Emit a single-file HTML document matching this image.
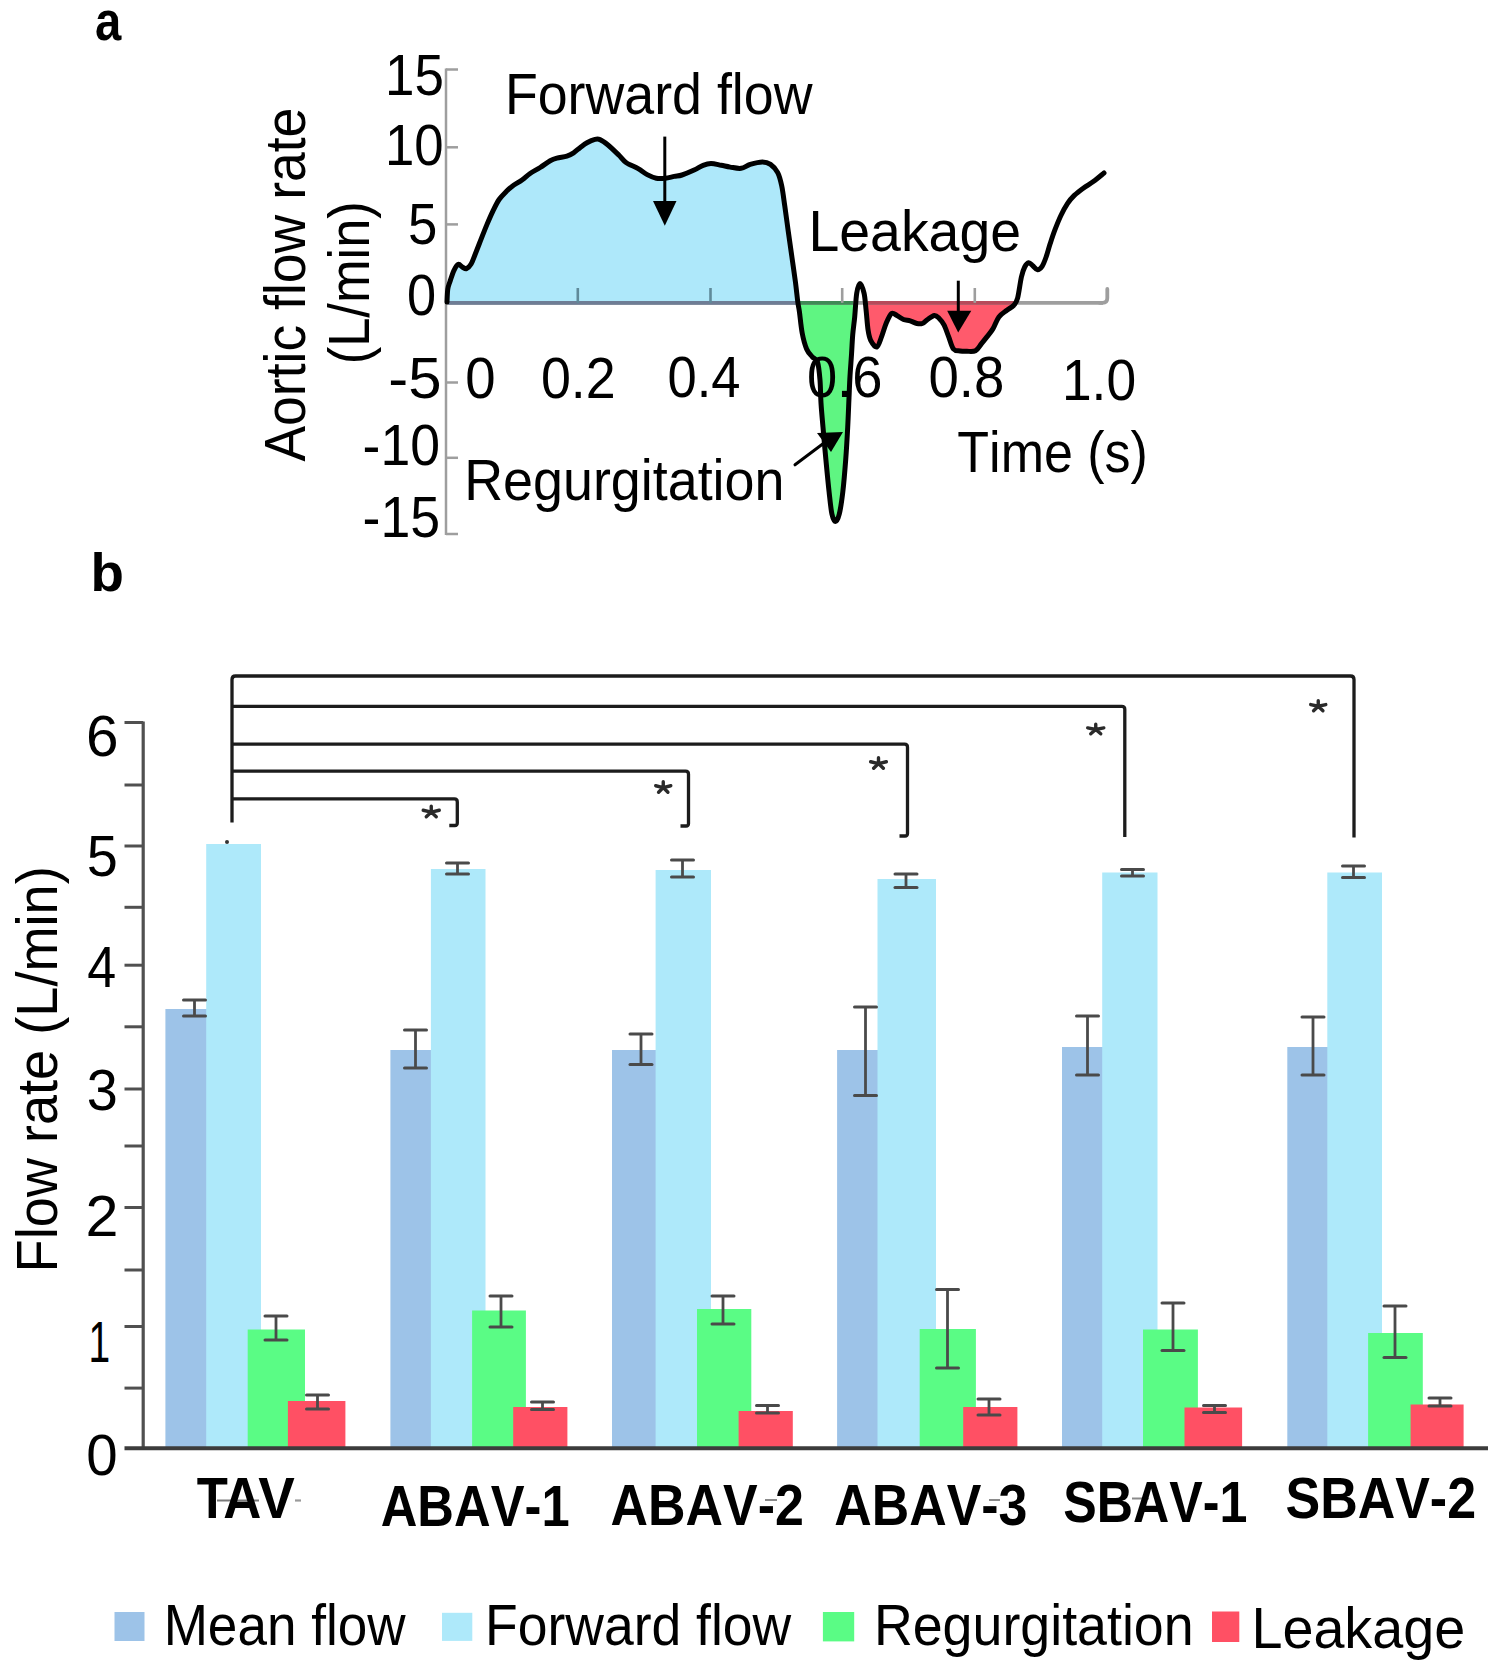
<!DOCTYPE html>
<html><head><meta charset="utf-8"><style>
html,body{margin:0;padding:0;background:#fff;overflow:hidden;}
svg{display:block;}
text{font-family:"Liberation Sans",sans-serif;font-kerning:none;}
</style></head><body>
<svg width="1494" height="1670" viewBox="0 0 1494 1670">
<rect width="1494" height="1670" fill="#fff"/>
<text x="94.92" y="40.30" font-size="56" font-weight="bold" textLength="26.28" lengthAdjust="spacingAndGlyphs" fill="#000">a</text>
<defs><clipPath id="cb"><rect x="440" y="100" width="358" height="202"/></clipPath><clipPath id="cg"><rect x="797" y="302" width="60" height="240"/></clipPath><clipPath id="cr"><rect x="862" y="302" width="156" height="100"/></clipPath></defs>
<path d="M447.00,302.00 C447.13,299.83 447.28,292.47 447.80,289.00 C448.32,285.53 449.07,284.32 450.10,281.20 C451.13,278.08 452.63,273.10 454.00,270.30 C455.37,267.50 456.87,264.92 458.30,264.40 C459.73,263.88 461.23,266.48 462.60,267.20 C463.97,267.92 465.08,269.23 466.50,268.70 C467.92,268.17 469.68,266.33 471.10,264.00 C472.52,261.67 473.43,258.58 475.00,254.70 C476.57,250.82 478.55,245.63 480.50,240.70 C482.45,235.77 484.63,230.03 486.70,225.10 C488.77,220.17 490.83,215.37 492.90,211.10 C494.97,206.83 496.90,202.73 499.10,199.50 C501.30,196.27 503.95,193.88 506.10,191.70 C508.25,189.52 509.35,188.35 512.00,186.40 C514.65,184.45 518.98,182.15 522.00,180.00 C525.02,177.85 527.07,175.58 530.10,173.50 C533.13,171.42 536.85,169.62 540.20,167.50 C543.55,165.38 547.42,162.37 550.20,160.80 C552.98,159.23 554.12,158.88 556.90,158.10 C559.68,157.32 564.12,156.98 566.90,156.10 C569.68,155.22 571.37,154.25 573.60,152.80 C575.83,151.35 578.07,149.08 580.30,147.40 C582.53,145.72 584.55,144.03 587.00,142.70 C589.45,141.37 592.83,139.92 595.00,139.40 C597.17,138.88 597.83,138.67 600.00,139.60 C602.17,140.53 604.83,142.38 608.00,145.00 C611.17,147.62 616.00,152.38 619.00,155.30 C622.00,158.22 622.80,160.28 626.00,162.50 C629.20,164.72 634.67,166.58 638.20,168.60 C641.73,170.62 644.18,173.00 647.20,174.60 C650.22,176.20 653.28,177.60 656.30,178.20 C659.32,178.80 662.30,178.50 665.30,178.20 C668.30,177.90 671.52,176.93 674.30,176.40 C677.08,175.87 678.70,176.05 682.00,175.00 C685.30,173.95 690.58,171.72 694.10,170.10 C697.62,168.48 700.28,166.40 703.10,165.30 C705.92,164.20 707.98,163.50 711.00,163.50 C714.02,163.50 718.00,164.70 721.20,165.30 C724.40,165.90 726.88,166.60 730.20,167.10 C733.52,167.60 737.77,168.75 741.10,168.30 C744.43,167.85 746.65,165.47 750.20,164.40 C753.75,163.33 759.02,161.90 762.40,161.90 C765.78,161.90 767.95,162.62 770.50,164.40 C773.05,166.18 775.83,169.03 777.70,172.60 C779.57,176.17 780.52,180.20 781.70,185.80 C782.88,191.40 783.70,198.57 784.80,206.20 C785.90,213.83 787.12,223.13 788.30,231.60 C789.48,240.07 790.70,248.52 791.90,257.00 C793.10,265.48 794.52,275.00 795.50,282.50 C796.48,290.00 797.15,297.15 797.80,302.00 C798.45,306.85 798.67,306.42 799.40,311.60 C800.13,316.78 801.00,326.88 802.20,333.10 C803.40,339.32 804.92,344.95 806.60,348.90 C808.28,352.85 810.48,354.62 812.30,356.80 C814.12,358.98 816.22,358.13 817.50,362.00 C818.78,365.87 819.42,373.17 820.00,380.00 C820.58,386.83 820.50,395.12 821.00,403.00 C821.50,410.88 822.18,417.85 823.00,427.30 C823.82,436.75 824.88,448.92 825.90,459.70 C826.92,470.48 828.10,482.95 829.10,492.00 C830.10,501.05 830.83,509.08 831.90,514.00 C832.97,518.92 834.27,521.50 835.50,521.50 C836.73,521.50 838.08,518.92 839.30,514.00 C840.52,509.08 841.73,501.05 842.80,492.00 C843.87,482.95 844.88,470.48 845.70,459.70 C846.52,448.92 847.15,437.62 847.70,427.30 C848.25,416.98 848.62,406.32 849.00,397.80 C849.38,389.28 849.58,383.38 850.00,376.20 C850.42,369.02 851.05,361.57 851.50,354.70 C851.95,347.83 852.17,341.30 852.70,335.00 C853.23,328.70 854.03,323.83 854.70,316.90 C855.37,309.97 855.82,298.98 856.70,293.40 C857.58,287.82 858.77,283.40 860.00,283.40 C861.23,283.40 863.08,288.93 864.10,293.40 C865.12,297.87 865.43,304.07 866.10,310.20 C866.77,316.33 867.33,325.18 868.10,330.20 C868.87,335.22 869.25,337.50 870.70,340.30 C872.15,343.10 875.00,347.57 876.80,347.00 C878.60,346.43 879.95,340.82 881.50,336.90 C883.05,332.98 884.43,327.40 886.10,323.50 C887.77,319.60 889.70,314.83 891.50,313.50 C893.30,312.17 894.90,314.50 896.90,315.50 C898.90,316.50 901.28,318.60 903.50,319.50 C905.72,320.40 907.97,320.23 910.20,320.90 C912.43,321.57 914.88,323.07 916.90,323.50 C918.92,323.93 920.52,324.17 922.30,323.50 C924.08,322.83 925.60,320.83 927.60,319.50 C929.60,318.17 932.40,315.72 934.30,315.50 C936.20,315.28 937.38,316.63 939.00,318.20 C940.62,319.77 942.38,321.78 944.00,324.90 C945.62,328.02 947.13,332.88 948.70,336.90 C950.27,340.92 951.50,346.65 953.40,349.00 C955.30,351.35 957.87,350.62 960.10,351.00 C962.33,351.38 964.23,351.35 966.80,351.30 C969.37,351.25 973.05,351.98 975.50,350.70 C977.95,349.42 979.60,345.90 981.50,343.60 C983.40,341.30 985.00,339.35 986.90,336.90 C988.80,334.45 990.90,332.23 992.90,328.90 C994.90,325.57 996.57,320.02 998.90,316.90 C1001.23,313.78 1004.45,312.10 1006.90,310.20 C1009.35,308.30 1011.82,307.52 1013.60,305.50 C1015.38,303.48 1016.30,302.85 1017.60,298.10 C1018.90,293.35 1020.22,282.18 1021.40,277.00 C1022.58,271.82 1023.48,269.38 1024.70,267.00 C1025.92,264.62 1027.35,262.92 1028.70,262.70 C1030.05,262.48 1031.35,264.53 1032.80,265.70 C1034.25,266.87 1035.85,269.60 1037.40,269.70 C1038.95,269.80 1040.65,268.42 1042.10,266.30 C1043.55,264.18 1044.75,260.78 1046.10,257.00 C1047.45,253.22 1048.75,248.07 1050.20,243.60 C1051.65,239.13 1053.02,234.88 1054.80,230.20 C1056.58,225.52 1058.77,219.97 1060.90,215.50 C1063.03,211.03 1065.37,206.75 1067.60,203.40 C1069.83,200.05 1071.63,197.97 1074.30,195.40 C1076.97,192.83 1080.37,190.35 1083.60,188.00 C1086.83,185.65 1090.30,183.80 1093.70,181.30 C1097.10,178.80 1102.28,174.38 1104.00,173.00 L1104,302 L447,302 Z" fill="#aee8fa" clip-path="url(#cb)"/>
<path d="M447.00,302.00 C447.13,299.83 447.28,292.47 447.80,289.00 C448.32,285.53 449.07,284.32 450.10,281.20 C451.13,278.08 452.63,273.10 454.00,270.30 C455.37,267.50 456.87,264.92 458.30,264.40 C459.73,263.88 461.23,266.48 462.60,267.20 C463.97,267.92 465.08,269.23 466.50,268.70 C467.92,268.17 469.68,266.33 471.10,264.00 C472.52,261.67 473.43,258.58 475.00,254.70 C476.57,250.82 478.55,245.63 480.50,240.70 C482.45,235.77 484.63,230.03 486.70,225.10 C488.77,220.17 490.83,215.37 492.90,211.10 C494.97,206.83 496.90,202.73 499.10,199.50 C501.30,196.27 503.95,193.88 506.10,191.70 C508.25,189.52 509.35,188.35 512.00,186.40 C514.65,184.45 518.98,182.15 522.00,180.00 C525.02,177.85 527.07,175.58 530.10,173.50 C533.13,171.42 536.85,169.62 540.20,167.50 C543.55,165.38 547.42,162.37 550.20,160.80 C552.98,159.23 554.12,158.88 556.90,158.10 C559.68,157.32 564.12,156.98 566.90,156.10 C569.68,155.22 571.37,154.25 573.60,152.80 C575.83,151.35 578.07,149.08 580.30,147.40 C582.53,145.72 584.55,144.03 587.00,142.70 C589.45,141.37 592.83,139.92 595.00,139.40 C597.17,138.88 597.83,138.67 600.00,139.60 C602.17,140.53 604.83,142.38 608.00,145.00 C611.17,147.62 616.00,152.38 619.00,155.30 C622.00,158.22 622.80,160.28 626.00,162.50 C629.20,164.72 634.67,166.58 638.20,168.60 C641.73,170.62 644.18,173.00 647.20,174.60 C650.22,176.20 653.28,177.60 656.30,178.20 C659.32,178.80 662.30,178.50 665.30,178.20 C668.30,177.90 671.52,176.93 674.30,176.40 C677.08,175.87 678.70,176.05 682.00,175.00 C685.30,173.95 690.58,171.72 694.10,170.10 C697.62,168.48 700.28,166.40 703.10,165.30 C705.92,164.20 707.98,163.50 711.00,163.50 C714.02,163.50 718.00,164.70 721.20,165.30 C724.40,165.90 726.88,166.60 730.20,167.10 C733.52,167.60 737.77,168.75 741.10,168.30 C744.43,167.85 746.65,165.47 750.20,164.40 C753.75,163.33 759.02,161.90 762.40,161.90 C765.78,161.90 767.95,162.62 770.50,164.40 C773.05,166.18 775.83,169.03 777.70,172.60 C779.57,176.17 780.52,180.20 781.70,185.80 C782.88,191.40 783.70,198.57 784.80,206.20 C785.90,213.83 787.12,223.13 788.30,231.60 C789.48,240.07 790.70,248.52 791.90,257.00 C793.10,265.48 794.52,275.00 795.50,282.50 C796.48,290.00 797.15,297.15 797.80,302.00 C798.45,306.85 798.67,306.42 799.40,311.60 C800.13,316.78 801.00,326.88 802.20,333.10 C803.40,339.32 804.92,344.95 806.60,348.90 C808.28,352.85 810.48,354.62 812.30,356.80 C814.12,358.98 816.22,358.13 817.50,362.00 C818.78,365.87 819.42,373.17 820.00,380.00 C820.58,386.83 820.50,395.12 821.00,403.00 C821.50,410.88 822.18,417.85 823.00,427.30 C823.82,436.75 824.88,448.92 825.90,459.70 C826.92,470.48 828.10,482.95 829.10,492.00 C830.10,501.05 830.83,509.08 831.90,514.00 C832.97,518.92 834.27,521.50 835.50,521.50 C836.73,521.50 838.08,518.92 839.30,514.00 C840.52,509.08 841.73,501.05 842.80,492.00 C843.87,482.95 844.88,470.48 845.70,459.70 C846.52,448.92 847.15,437.62 847.70,427.30 C848.25,416.98 848.62,406.32 849.00,397.80 C849.38,389.28 849.58,383.38 850.00,376.20 C850.42,369.02 851.05,361.57 851.50,354.70 C851.95,347.83 852.17,341.30 852.70,335.00 C853.23,328.70 854.03,323.83 854.70,316.90 C855.37,309.97 855.82,298.98 856.70,293.40 C857.58,287.82 858.77,283.40 860.00,283.40 C861.23,283.40 863.08,288.93 864.10,293.40 C865.12,297.87 865.43,304.07 866.10,310.20 C866.77,316.33 867.33,325.18 868.10,330.20 C868.87,335.22 869.25,337.50 870.70,340.30 C872.15,343.10 875.00,347.57 876.80,347.00 C878.60,346.43 879.95,340.82 881.50,336.90 C883.05,332.98 884.43,327.40 886.10,323.50 C887.77,319.60 889.70,314.83 891.50,313.50 C893.30,312.17 894.90,314.50 896.90,315.50 C898.90,316.50 901.28,318.60 903.50,319.50 C905.72,320.40 907.97,320.23 910.20,320.90 C912.43,321.57 914.88,323.07 916.90,323.50 C918.92,323.93 920.52,324.17 922.30,323.50 C924.08,322.83 925.60,320.83 927.60,319.50 C929.60,318.17 932.40,315.72 934.30,315.50 C936.20,315.28 937.38,316.63 939.00,318.20 C940.62,319.77 942.38,321.78 944.00,324.90 C945.62,328.02 947.13,332.88 948.70,336.90 C950.27,340.92 951.50,346.65 953.40,349.00 C955.30,351.35 957.87,350.62 960.10,351.00 C962.33,351.38 964.23,351.35 966.80,351.30 C969.37,351.25 973.05,351.98 975.50,350.70 C977.95,349.42 979.60,345.90 981.50,343.60 C983.40,341.30 985.00,339.35 986.90,336.90 C988.80,334.45 990.90,332.23 992.90,328.90 C994.90,325.57 996.57,320.02 998.90,316.90 C1001.23,313.78 1004.45,312.10 1006.90,310.20 C1009.35,308.30 1011.82,307.52 1013.60,305.50 C1015.38,303.48 1016.30,302.85 1017.60,298.10 C1018.90,293.35 1020.22,282.18 1021.40,277.00 C1022.58,271.82 1023.48,269.38 1024.70,267.00 C1025.92,264.62 1027.35,262.92 1028.70,262.70 C1030.05,262.48 1031.35,264.53 1032.80,265.70 C1034.25,266.87 1035.85,269.60 1037.40,269.70 C1038.95,269.80 1040.65,268.42 1042.10,266.30 C1043.55,264.18 1044.75,260.78 1046.10,257.00 C1047.45,253.22 1048.75,248.07 1050.20,243.60 C1051.65,239.13 1053.02,234.88 1054.80,230.20 C1056.58,225.52 1058.77,219.97 1060.90,215.50 C1063.03,211.03 1065.37,206.75 1067.60,203.40 C1069.83,200.05 1071.63,197.97 1074.30,195.40 C1076.97,192.83 1080.37,190.35 1083.60,188.00 C1086.83,185.65 1090.30,183.80 1093.70,181.30 C1097.10,178.80 1102.28,174.38 1104.00,173.00 L1104,302 L447,302 Z" fill="#5ff582" clip-path="url(#cg)"/>
<path d="M447.00,302.00 C447.13,299.83 447.28,292.47 447.80,289.00 C448.32,285.53 449.07,284.32 450.10,281.20 C451.13,278.08 452.63,273.10 454.00,270.30 C455.37,267.50 456.87,264.92 458.30,264.40 C459.73,263.88 461.23,266.48 462.60,267.20 C463.97,267.92 465.08,269.23 466.50,268.70 C467.92,268.17 469.68,266.33 471.10,264.00 C472.52,261.67 473.43,258.58 475.00,254.70 C476.57,250.82 478.55,245.63 480.50,240.70 C482.45,235.77 484.63,230.03 486.70,225.10 C488.77,220.17 490.83,215.37 492.90,211.10 C494.97,206.83 496.90,202.73 499.10,199.50 C501.30,196.27 503.95,193.88 506.10,191.70 C508.25,189.52 509.35,188.35 512.00,186.40 C514.65,184.45 518.98,182.15 522.00,180.00 C525.02,177.85 527.07,175.58 530.10,173.50 C533.13,171.42 536.85,169.62 540.20,167.50 C543.55,165.38 547.42,162.37 550.20,160.80 C552.98,159.23 554.12,158.88 556.90,158.10 C559.68,157.32 564.12,156.98 566.90,156.10 C569.68,155.22 571.37,154.25 573.60,152.80 C575.83,151.35 578.07,149.08 580.30,147.40 C582.53,145.72 584.55,144.03 587.00,142.70 C589.45,141.37 592.83,139.92 595.00,139.40 C597.17,138.88 597.83,138.67 600.00,139.60 C602.17,140.53 604.83,142.38 608.00,145.00 C611.17,147.62 616.00,152.38 619.00,155.30 C622.00,158.22 622.80,160.28 626.00,162.50 C629.20,164.72 634.67,166.58 638.20,168.60 C641.73,170.62 644.18,173.00 647.20,174.60 C650.22,176.20 653.28,177.60 656.30,178.20 C659.32,178.80 662.30,178.50 665.30,178.20 C668.30,177.90 671.52,176.93 674.30,176.40 C677.08,175.87 678.70,176.05 682.00,175.00 C685.30,173.95 690.58,171.72 694.10,170.10 C697.62,168.48 700.28,166.40 703.10,165.30 C705.92,164.20 707.98,163.50 711.00,163.50 C714.02,163.50 718.00,164.70 721.20,165.30 C724.40,165.90 726.88,166.60 730.20,167.10 C733.52,167.60 737.77,168.75 741.10,168.30 C744.43,167.85 746.65,165.47 750.20,164.40 C753.75,163.33 759.02,161.90 762.40,161.90 C765.78,161.90 767.95,162.62 770.50,164.40 C773.05,166.18 775.83,169.03 777.70,172.60 C779.57,176.17 780.52,180.20 781.70,185.80 C782.88,191.40 783.70,198.57 784.80,206.20 C785.90,213.83 787.12,223.13 788.30,231.60 C789.48,240.07 790.70,248.52 791.90,257.00 C793.10,265.48 794.52,275.00 795.50,282.50 C796.48,290.00 797.15,297.15 797.80,302.00 C798.45,306.85 798.67,306.42 799.40,311.60 C800.13,316.78 801.00,326.88 802.20,333.10 C803.40,339.32 804.92,344.95 806.60,348.90 C808.28,352.85 810.48,354.62 812.30,356.80 C814.12,358.98 816.22,358.13 817.50,362.00 C818.78,365.87 819.42,373.17 820.00,380.00 C820.58,386.83 820.50,395.12 821.00,403.00 C821.50,410.88 822.18,417.85 823.00,427.30 C823.82,436.75 824.88,448.92 825.90,459.70 C826.92,470.48 828.10,482.95 829.10,492.00 C830.10,501.05 830.83,509.08 831.90,514.00 C832.97,518.92 834.27,521.50 835.50,521.50 C836.73,521.50 838.08,518.92 839.30,514.00 C840.52,509.08 841.73,501.05 842.80,492.00 C843.87,482.95 844.88,470.48 845.70,459.70 C846.52,448.92 847.15,437.62 847.70,427.30 C848.25,416.98 848.62,406.32 849.00,397.80 C849.38,389.28 849.58,383.38 850.00,376.20 C850.42,369.02 851.05,361.57 851.50,354.70 C851.95,347.83 852.17,341.30 852.70,335.00 C853.23,328.70 854.03,323.83 854.70,316.90 C855.37,309.97 855.82,298.98 856.70,293.40 C857.58,287.82 858.77,283.40 860.00,283.40 C861.23,283.40 863.08,288.93 864.10,293.40 C865.12,297.87 865.43,304.07 866.10,310.20 C866.77,316.33 867.33,325.18 868.10,330.20 C868.87,335.22 869.25,337.50 870.70,340.30 C872.15,343.10 875.00,347.57 876.80,347.00 C878.60,346.43 879.95,340.82 881.50,336.90 C883.05,332.98 884.43,327.40 886.10,323.50 C887.77,319.60 889.70,314.83 891.50,313.50 C893.30,312.17 894.90,314.50 896.90,315.50 C898.90,316.50 901.28,318.60 903.50,319.50 C905.72,320.40 907.97,320.23 910.20,320.90 C912.43,321.57 914.88,323.07 916.90,323.50 C918.92,323.93 920.52,324.17 922.30,323.50 C924.08,322.83 925.60,320.83 927.60,319.50 C929.60,318.17 932.40,315.72 934.30,315.50 C936.20,315.28 937.38,316.63 939.00,318.20 C940.62,319.77 942.38,321.78 944.00,324.90 C945.62,328.02 947.13,332.88 948.70,336.90 C950.27,340.92 951.50,346.65 953.40,349.00 C955.30,351.35 957.87,350.62 960.10,351.00 C962.33,351.38 964.23,351.35 966.80,351.30 C969.37,351.25 973.05,351.98 975.50,350.70 C977.95,349.42 979.60,345.90 981.50,343.60 C983.40,341.30 985.00,339.35 986.90,336.90 C988.80,334.45 990.90,332.23 992.90,328.90 C994.90,325.57 996.57,320.02 998.90,316.90 C1001.23,313.78 1004.45,312.10 1006.90,310.20 C1009.35,308.30 1011.82,307.52 1013.60,305.50 C1015.38,303.48 1016.30,302.85 1017.60,298.10 C1018.90,293.35 1020.22,282.18 1021.40,277.00 C1022.58,271.82 1023.48,269.38 1024.70,267.00 C1025.92,264.62 1027.35,262.92 1028.70,262.70 C1030.05,262.48 1031.35,264.53 1032.80,265.70 C1034.25,266.87 1035.85,269.60 1037.40,269.70 C1038.95,269.80 1040.65,268.42 1042.10,266.30 C1043.55,264.18 1044.75,260.78 1046.10,257.00 C1047.45,253.22 1048.75,248.07 1050.20,243.60 C1051.65,239.13 1053.02,234.88 1054.80,230.20 C1056.58,225.52 1058.77,219.97 1060.90,215.50 C1063.03,211.03 1065.37,206.75 1067.60,203.40 C1069.83,200.05 1071.63,197.97 1074.30,195.40 C1076.97,192.83 1080.37,190.35 1083.60,188.00 C1086.83,185.65 1090.30,183.80 1093.70,181.30 C1097.10,178.80 1102.28,174.38 1104.00,173.00 L1104,302 L447,302 Z" fill="#ff5a6c" clip-path="url(#cr)"/>
<line x1="446" y1="68.5" x2="446" y2="535" stroke="#9e9e9e" stroke-width="2.5" stroke-linecap="butt"/>
<line x1="446" y1="69.5" x2="458" y2="69.5" stroke="#9e9e9e" stroke-width="2.5" stroke-linecap="butt"/>
<line x1="446" y1="147.3" x2="458" y2="147.3" stroke="#9e9e9e" stroke-width="2.5" stroke-linecap="butt"/>
<line x1="446" y1="224.4" x2="458" y2="224.4" stroke="#9e9e9e" stroke-width="2.5" stroke-linecap="butt"/>
<line x1="446" y1="382.5" x2="458" y2="382.5" stroke="#9e9e9e" stroke-width="2.5" stroke-linecap="butt"/>
<line x1="446" y1="457.8" x2="458" y2="457.8" stroke="#9e9e9e" stroke-width="2.5" stroke-linecap="butt"/>
<line x1="446" y1="534" x2="458" y2="534" stroke="#9e9e9e" stroke-width="2.5" stroke-linecap="butt"/>
<line x1="446" y1="302.9" x2="1103" y2="302.9" stroke="#9e9e9e" stroke-width="3.8" stroke-linecap="butt"/>
<line x1="448" y1="302.9" x2="796" y2="302.9" stroke="#6e7d95" stroke-width="3.8" stroke-linecap="butt"/>
<line x1="799" y1="302.9" x2="853" y2="302.9" stroke="#3f8a55" stroke-width="3.8" stroke-linecap="butt"/>
<line x1="868" y1="302.9" x2="1014" y2="302.9" stroke="#b84a5a" stroke-width="3.8" stroke-linecap="butt"/>
<line x1="577.8" y1="302.9" x2="577.8" y2="288" stroke="#5f8a9a" stroke-width="2.6" stroke-linecap="butt"/>
<line x1="710.5" y1="302.9" x2="710.5" y2="288" stroke="#5f8a9a" stroke-width="2.6" stroke-linecap="butt"/>
<line x1="842.2" y1="302.9" x2="842.2" y2="288" stroke="#9e9e9e" stroke-width="2.6" stroke-linecap="butt"/>
<line x1="974.8" y1="302.9" x2="974.8" y2="288" stroke="#9e9e9e" stroke-width="2.6" stroke-linecap="butt"/>
<path d="M1100,302.9 L1102.5,302.9 Q1107.3,302.9 1107.3,298.09999999999997 L1107.3,289" fill="none" stroke="#9e9e9e" stroke-width="3.8" stroke-linecap="round"/>
<path d="M447.00,302.00 C447.13,299.83 447.28,292.47 447.80,289.00 C448.32,285.53 449.07,284.32 450.10,281.20 C451.13,278.08 452.63,273.10 454.00,270.30 C455.37,267.50 456.87,264.92 458.30,264.40 C459.73,263.88 461.23,266.48 462.60,267.20 C463.97,267.92 465.08,269.23 466.50,268.70 C467.92,268.17 469.68,266.33 471.10,264.00 C472.52,261.67 473.43,258.58 475.00,254.70 C476.57,250.82 478.55,245.63 480.50,240.70 C482.45,235.77 484.63,230.03 486.70,225.10 C488.77,220.17 490.83,215.37 492.90,211.10 C494.97,206.83 496.90,202.73 499.10,199.50 C501.30,196.27 503.95,193.88 506.10,191.70 C508.25,189.52 509.35,188.35 512.00,186.40 C514.65,184.45 518.98,182.15 522.00,180.00 C525.02,177.85 527.07,175.58 530.10,173.50 C533.13,171.42 536.85,169.62 540.20,167.50 C543.55,165.38 547.42,162.37 550.20,160.80 C552.98,159.23 554.12,158.88 556.90,158.10 C559.68,157.32 564.12,156.98 566.90,156.10 C569.68,155.22 571.37,154.25 573.60,152.80 C575.83,151.35 578.07,149.08 580.30,147.40 C582.53,145.72 584.55,144.03 587.00,142.70 C589.45,141.37 592.83,139.92 595.00,139.40 C597.17,138.88 597.83,138.67 600.00,139.60 C602.17,140.53 604.83,142.38 608.00,145.00 C611.17,147.62 616.00,152.38 619.00,155.30 C622.00,158.22 622.80,160.28 626.00,162.50 C629.20,164.72 634.67,166.58 638.20,168.60 C641.73,170.62 644.18,173.00 647.20,174.60 C650.22,176.20 653.28,177.60 656.30,178.20 C659.32,178.80 662.30,178.50 665.30,178.20 C668.30,177.90 671.52,176.93 674.30,176.40 C677.08,175.87 678.70,176.05 682.00,175.00 C685.30,173.95 690.58,171.72 694.10,170.10 C697.62,168.48 700.28,166.40 703.10,165.30 C705.92,164.20 707.98,163.50 711.00,163.50 C714.02,163.50 718.00,164.70 721.20,165.30 C724.40,165.90 726.88,166.60 730.20,167.10 C733.52,167.60 737.77,168.75 741.10,168.30 C744.43,167.85 746.65,165.47 750.20,164.40 C753.75,163.33 759.02,161.90 762.40,161.90 C765.78,161.90 767.95,162.62 770.50,164.40 C773.05,166.18 775.83,169.03 777.70,172.60 C779.57,176.17 780.52,180.20 781.70,185.80 C782.88,191.40 783.70,198.57 784.80,206.20 C785.90,213.83 787.12,223.13 788.30,231.60 C789.48,240.07 790.70,248.52 791.90,257.00 C793.10,265.48 794.52,275.00 795.50,282.50 C796.48,290.00 797.15,297.15 797.80,302.00 C798.45,306.85 798.67,306.42 799.40,311.60 C800.13,316.78 801.00,326.88 802.20,333.10 C803.40,339.32 804.92,344.95 806.60,348.90 C808.28,352.85 810.48,354.62 812.30,356.80 C814.12,358.98 816.22,358.13 817.50,362.00 C818.78,365.87 819.42,373.17 820.00,380.00 C820.58,386.83 820.50,395.12 821.00,403.00 C821.50,410.88 822.18,417.85 823.00,427.30 C823.82,436.75 824.88,448.92 825.90,459.70 C826.92,470.48 828.10,482.95 829.10,492.00 C830.10,501.05 830.83,509.08 831.90,514.00 C832.97,518.92 834.27,521.50 835.50,521.50 C836.73,521.50 838.08,518.92 839.30,514.00 C840.52,509.08 841.73,501.05 842.80,492.00 C843.87,482.95 844.88,470.48 845.70,459.70 C846.52,448.92 847.15,437.62 847.70,427.30 C848.25,416.98 848.62,406.32 849.00,397.80 C849.38,389.28 849.58,383.38 850.00,376.20 C850.42,369.02 851.05,361.57 851.50,354.70 C851.95,347.83 852.17,341.30 852.70,335.00 C853.23,328.70 854.03,323.83 854.70,316.90 C855.37,309.97 855.82,298.98 856.70,293.40 C857.58,287.82 858.77,283.40 860.00,283.40 C861.23,283.40 863.08,288.93 864.10,293.40 C865.12,297.87 865.43,304.07 866.10,310.20 C866.77,316.33 867.33,325.18 868.10,330.20 C868.87,335.22 869.25,337.50 870.70,340.30 C872.15,343.10 875.00,347.57 876.80,347.00 C878.60,346.43 879.95,340.82 881.50,336.90 C883.05,332.98 884.43,327.40 886.10,323.50 C887.77,319.60 889.70,314.83 891.50,313.50 C893.30,312.17 894.90,314.50 896.90,315.50 C898.90,316.50 901.28,318.60 903.50,319.50 C905.72,320.40 907.97,320.23 910.20,320.90 C912.43,321.57 914.88,323.07 916.90,323.50 C918.92,323.93 920.52,324.17 922.30,323.50 C924.08,322.83 925.60,320.83 927.60,319.50 C929.60,318.17 932.40,315.72 934.30,315.50 C936.20,315.28 937.38,316.63 939.00,318.20 C940.62,319.77 942.38,321.78 944.00,324.90 C945.62,328.02 947.13,332.88 948.70,336.90 C950.27,340.92 951.50,346.65 953.40,349.00 C955.30,351.35 957.87,350.62 960.10,351.00 C962.33,351.38 964.23,351.35 966.80,351.30 C969.37,351.25 973.05,351.98 975.50,350.70 C977.95,349.42 979.60,345.90 981.50,343.60 C983.40,341.30 985.00,339.35 986.90,336.90 C988.80,334.45 990.90,332.23 992.90,328.90 C994.90,325.57 996.57,320.02 998.90,316.90 C1001.23,313.78 1004.45,312.10 1006.90,310.20 C1009.35,308.30 1011.82,307.52 1013.60,305.50 C1015.38,303.48 1016.30,302.85 1017.60,298.10 C1018.90,293.35 1020.22,282.18 1021.40,277.00 C1022.58,271.82 1023.48,269.38 1024.70,267.00 C1025.92,264.62 1027.35,262.92 1028.70,262.70 C1030.05,262.48 1031.35,264.53 1032.80,265.70 C1034.25,266.87 1035.85,269.60 1037.40,269.70 C1038.95,269.80 1040.65,268.42 1042.10,266.30 C1043.55,264.18 1044.75,260.78 1046.10,257.00 C1047.45,253.22 1048.75,248.07 1050.20,243.60 C1051.65,239.13 1053.02,234.88 1054.80,230.20 C1056.58,225.52 1058.77,219.97 1060.90,215.50 C1063.03,211.03 1065.37,206.75 1067.60,203.40 C1069.83,200.05 1071.63,197.97 1074.30,195.40 C1076.97,192.83 1080.37,190.35 1083.60,188.00 C1086.83,185.65 1090.30,183.80 1093.70,181.30 C1097.10,178.80 1102.28,174.38 1104.00,173.00" fill="none" stroke="#000" stroke-width="5" stroke-linejoin="round" stroke-linecap="round"/>
<line x1="664.8" y1="136.6" x2="664.8" y2="203" stroke="#000" stroke-width="3" stroke-linecap="butt"/>
<path d="M653,201 L676.5,201 L664.8,225.8 Z" fill="#000"/>
<line x1="958.3" y1="280.7" x2="958.3" y2="312" stroke="#000" stroke-width="3" stroke-linecap="butt"/>
<path d="M947.2,310.8 L971.3,310.8 L958.2,332.5 Z" fill="#000"/>
<line x1="795" y1="464.8" x2="824" y2="443" stroke="#000" stroke-width="3" stroke-linecap="round"/>
<path d="M817,433 L843,432 L831,452 Z" fill="#000"/>
<text x="384.97" y="94.65" font-size="56.5" textLength="58.85" lengthAdjust="spacingAndGlyphs" fill="#000">15</text>
<text x="384.98" y="165.15" font-size="56.5" textLength="58.68" lengthAdjust="spacingAndGlyphs" fill="#000">10</text>
<text x="407.89" y="244.25" font-size="56.5" textLength="29.33" lengthAdjust="spacingAndGlyphs" fill="#000">5</text>
<text x="406.96" y="314.65" font-size="56.5" textLength="29.09" lengthAdjust="spacingAndGlyphs" fill="#000">0</text>
<text x="388.34" y="398.15" font-size="56.5" textLength="53.17" lengthAdjust="spacingAndGlyphs" fill="#000">-5</text>
<text x="362.62" y="465.15" font-size="56.5" textLength="77.48" lengthAdjust="spacingAndGlyphs" fill="#000">-10</text>
<text x="362.61" y="536.65" font-size="56.5" textLength="77.64" lengthAdjust="spacingAndGlyphs" fill="#000">-15</text>
<text x="465.37" y="398.15" font-size="56.5" textLength="30.37" lengthAdjust="spacingAndGlyphs" fill="#000">0</text>
<text x="540.90" y="397.50" font-size="56.5" textLength="74.81" lengthAdjust="spacingAndGlyphs" fill="#000">0.2</text>
<text x="667.55" y="397.40" font-size="56.5" textLength="72.99" lengthAdjust="spacingAndGlyphs" fill="#000">0.4</text>
<text x="806.88" y="397.45" font-size="56.5" textLength="75.51" lengthAdjust="spacingAndGlyphs" fill="#000">0.6</text>
<text x="928.47" y="397.45" font-size="56.5" textLength="75.91" lengthAdjust="spacingAndGlyphs" fill="#000">0.8</text>
<text x="1061.94" y="400.15" font-size="56.5" textLength="74.15" lengthAdjust="spacingAndGlyphs" fill="#000">1.0</text>
<text x="504.89" y="114.00" font-size="56.5" textLength="307.58" lengthAdjust="spacingAndGlyphs" fill="#000">Forward flow</text>
<text x="808.45" y="250.80" font-size="56.5" textLength="212.61" lengthAdjust="spacingAndGlyphs" fill="#000">Leakage</text>
<text x="464.18" y="500.30" font-size="56.5" textLength="320.31" lengthAdjust="spacingAndGlyphs" fill="#000">Regurgitation</text>
<text x="957.33" y="472.00" font-size="56.5" textLength="190.59" lengthAdjust="spacingAndGlyphs" fill="#000">Time (s)</text>
<text transform="rotate(-90)" x="-461.60" y="305.00" font-size="56.5" textLength="353.98" lengthAdjust="spacingAndGlyphs">Aortic flow rate</text>
<text transform="rotate(-90)" x="-364.25" y="369.00" font-size="56.5" textLength="163.00" lengthAdjust="spacingAndGlyphs">(L/min)</text>
<text x="90.59" y="591.00" font-size="54" font-weight="bold" textLength="33.46" lengthAdjust="spacingAndGlyphs" fill="#000">b</text>
<rect x="165.40" y="1009.00" width="50.80" height="438.00" fill="#9dc3e8"/>
<rect x="390.40" y="1050.00" width="50.50" height="397.00" fill="#9dc3e8"/>
<rect x="612.00" y="1050.00" width="53.60" height="397.00" fill="#9dc3e8"/>
<rect x="837.10" y="1050.00" width="50.40" height="397.00" fill="#9dc3e8"/>
<rect x="1062.00" y="1047.00" width="50.20" height="400.00" fill="#9dc3e8"/>
<rect x="1287.30" y="1047.00" width="50.00" height="400.00" fill="#9dc3e8"/>
<rect x="206.20" y="844.00" width="54.80" height="603.00" fill="#aee9fa"/>
<rect x="430.90" y="869.00" width="54.60" height="578.00" fill="#aee9fa"/>
<rect x="655.60" y="870.00" width="55.40" height="577.00" fill="#aee9fa"/>
<rect x="877.50" y="879.00" width="58.50" height="568.00" fill="#aee9fa"/>
<rect x="1102.20" y="872.50" width="55.30" height="574.50" fill="#aee9fa"/>
<rect x="1327.30" y="872.50" width="54.70" height="574.50" fill="#aee9fa"/>
<rect x="247.70" y="1329.50" width="57.30" height="117.50" fill="#5afc85"/>
<rect x="472.10" y="1310.50" width="53.80" height="136.50" fill="#5afc85"/>
<rect x="697.00" y="1309.00" width="54.30" height="138.00" fill="#5afc85"/>
<rect x="919.70" y="1329.00" width="56.20" height="118.00" fill="#5afc85"/>
<rect x="1143.00" y="1329.50" width="54.90" height="117.50" fill="#5afc85"/>
<rect x="1368.10" y="1333.00" width="54.70" height="114.00" fill="#5afc85"/>
<rect x="287.90" y="1401.00" width="57.50" height="46.00" fill="#ff5064"/>
<rect x="513.20" y="1407.00" width="54.20" height="40.00" fill="#ff5064"/>
<rect x="738.60" y="1411.00" width="54.20" height="36.00" fill="#ff5064"/>
<rect x="963.20" y="1407.00" width="54.20" height="40.00" fill="#ff5064"/>
<rect x="1184.50" y="1407.50" width="57.60" height="39.50" fill="#ff5064"/>
<rect x="1410.60" y="1404.50" width="53.00" height="42.50" fill="#ff5064"/>
<line x1="194.5" y1="1000" x2="194.5" y2="1016" stroke="#4a4a4a" stroke-width="2.8" stroke-linecap="butt"/>
<line x1="183.5" y1="1000" x2="205.5" y2="1000" stroke="#4a4a4a" stroke-width="3" stroke-linecap="round"/>
<line x1="183.5" y1="1016" x2="205.5" y2="1016" stroke="#4a4a4a" stroke-width="3" stroke-linecap="round"/>
<line x1="415.5" y1="1030" x2="415.5" y2="1068" stroke="#4a4a4a" stroke-width="2.8" stroke-linecap="butt"/>
<line x1="404.5" y1="1030" x2="426.5" y2="1030" stroke="#4a4a4a" stroke-width="3" stroke-linecap="round"/>
<line x1="404.5" y1="1068" x2="426.5" y2="1068" stroke="#4a4a4a" stroke-width="3" stroke-linecap="round"/>
<line x1="641" y1="1034" x2="641" y2="1064.5" stroke="#4a4a4a" stroke-width="2.8" stroke-linecap="butt"/>
<line x1="630" y1="1034" x2="652" y2="1034" stroke="#4a4a4a" stroke-width="3" stroke-linecap="round"/>
<line x1="630" y1="1064.5" x2="652" y2="1064.5" stroke="#4a4a4a" stroke-width="3" stroke-linecap="round"/>
<line x1="865.5" y1="1007" x2="865.5" y2="1095.5" stroke="#4a4a4a" stroke-width="2.8" stroke-linecap="butt"/>
<line x1="854.5" y1="1007" x2="876.5" y2="1007" stroke="#4a4a4a" stroke-width="3" stroke-linecap="round"/>
<line x1="854.5" y1="1095.5" x2="876.5" y2="1095.5" stroke="#4a4a4a" stroke-width="3" stroke-linecap="round"/>
<line x1="1087.5" y1="1016" x2="1087.5" y2="1075" stroke="#4a4a4a" stroke-width="2.8" stroke-linecap="butt"/>
<line x1="1076.5" y1="1016" x2="1098.5" y2="1016" stroke="#4a4a4a" stroke-width="3" stroke-linecap="round"/>
<line x1="1076.5" y1="1075" x2="1098.5" y2="1075" stroke="#4a4a4a" stroke-width="3" stroke-linecap="round"/>
<line x1="1313" y1="1017" x2="1313" y2="1075" stroke="#4a4a4a" stroke-width="2.8" stroke-linecap="butt"/>
<line x1="1302" y1="1017" x2="1324" y2="1017" stroke="#4a4a4a" stroke-width="3" stroke-linecap="round"/>
<line x1="1302" y1="1075" x2="1324" y2="1075" stroke="#4a4a4a" stroke-width="3" stroke-linecap="round"/>
<line x1="457.5" y1="863" x2="457.5" y2="874" stroke="#4a4a4a" stroke-width="2.8" stroke-linecap="butt"/>
<line x1="446.5" y1="863" x2="468.5" y2="863" stroke="#4a4a4a" stroke-width="3" stroke-linecap="round"/>
<line x1="446.5" y1="874" x2="468.5" y2="874" stroke="#4a4a4a" stroke-width="3" stroke-linecap="round"/>
<line x1="682.5" y1="860" x2="682.5" y2="877" stroke="#4a4a4a" stroke-width="2.8" stroke-linecap="butt"/>
<line x1="671.5" y1="860" x2="693.5" y2="860" stroke="#4a4a4a" stroke-width="3" stroke-linecap="round"/>
<line x1="671.5" y1="877" x2="693.5" y2="877" stroke="#4a4a4a" stroke-width="3" stroke-linecap="round"/>
<line x1="906" y1="874" x2="906" y2="887.5" stroke="#4a4a4a" stroke-width="2.8" stroke-linecap="butt"/>
<line x1="895" y1="874" x2="917" y2="874" stroke="#4a4a4a" stroke-width="3" stroke-linecap="round"/>
<line x1="895" y1="887.5" x2="917" y2="887.5" stroke="#4a4a4a" stroke-width="3" stroke-linecap="round"/>
<line x1="1132.5" y1="869.5" x2="1132.5" y2="876" stroke="#4a4a4a" stroke-width="2.8" stroke-linecap="butt"/>
<line x1="1121.5" y1="869.5" x2="1143.5" y2="869.5" stroke="#4a4a4a" stroke-width="3" stroke-linecap="round"/>
<line x1="1121.5" y1="876" x2="1143.5" y2="876" stroke="#4a4a4a" stroke-width="3" stroke-linecap="round"/>
<line x1="1353.5" y1="866" x2="1353.5" y2="877.5" stroke="#4a4a4a" stroke-width="2.8" stroke-linecap="butt"/>
<line x1="1342.5" y1="866" x2="1364.5" y2="866" stroke="#4a4a4a" stroke-width="3" stroke-linecap="round"/>
<line x1="1342.5" y1="877.5" x2="1364.5" y2="877.5" stroke="#4a4a4a" stroke-width="3" stroke-linecap="round"/>
<line x1="276" y1="1316" x2="276" y2="1340" stroke="#4a4a4a" stroke-width="2.8" stroke-linecap="butt"/>
<line x1="265" y1="1316" x2="287" y2="1316" stroke="#4a4a4a" stroke-width="3" stroke-linecap="round"/>
<line x1="265" y1="1340" x2="287" y2="1340" stroke="#4a4a4a" stroke-width="3" stroke-linecap="round"/>
<line x1="501" y1="1296" x2="501" y2="1327" stroke="#4a4a4a" stroke-width="2.8" stroke-linecap="butt"/>
<line x1="490" y1="1296" x2="512" y2="1296" stroke="#4a4a4a" stroke-width="3" stroke-linecap="round"/>
<line x1="490" y1="1327" x2="512" y2="1327" stroke="#4a4a4a" stroke-width="3" stroke-linecap="round"/>
<line x1="723" y1="1296" x2="723" y2="1324" stroke="#4a4a4a" stroke-width="2.8" stroke-linecap="butt"/>
<line x1="712" y1="1296" x2="734" y2="1296" stroke="#4a4a4a" stroke-width="3" stroke-linecap="round"/>
<line x1="712" y1="1324" x2="734" y2="1324" stroke="#4a4a4a" stroke-width="3" stroke-linecap="round"/>
<line x1="947.5" y1="1289.5" x2="947.5" y2="1368" stroke="#4a4a4a" stroke-width="2.8" stroke-linecap="butt"/>
<line x1="936.5" y1="1289.5" x2="958.5" y2="1289.5" stroke="#4a4a4a" stroke-width="3" stroke-linecap="round"/>
<line x1="936.5" y1="1368" x2="958.5" y2="1368" stroke="#4a4a4a" stroke-width="3" stroke-linecap="round"/>
<line x1="1173" y1="1303" x2="1173" y2="1350.5" stroke="#4a4a4a" stroke-width="2.8" stroke-linecap="butt"/>
<line x1="1162" y1="1303" x2="1184" y2="1303" stroke="#4a4a4a" stroke-width="3" stroke-linecap="round"/>
<line x1="1162" y1="1350.5" x2="1184" y2="1350.5" stroke="#4a4a4a" stroke-width="3" stroke-linecap="round"/>
<line x1="1395" y1="1306" x2="1395" y2="1357.5" stroke="#4a4a4a" stroke-width="2.8" stroke-linecap="butt"/>
<line x1="1384" y1="1306" x2="1406" y2="1306" stroke="#4a4a4a" stroke-width="3" stroke-linecap="round"/>
<line x1="1384" y1="1357.5" x2="1406" y2="1357.5" stroke="#4a4a4a" stroke-width="3" stroke-linecap="round"/>
<line x1="317.5" y1="1395" x2="317.5" y2="1409" stroke="#4a4a4a" stroke-width="2.8" stroke-linecap="butt"/>
<line x1="306.5" y1="1395" x2="328.5" y2="1395" stroke="#4a4a4a" stroke-width="3" stroke-linecap="round"/>
<line x1="306.5" y1="1409" x2="328.5" y2="1409" stroke="#4a4a4a" stroke-width="3" stroke-linecap="round"/>
<line x1="542.5" y1="1402" x2="542.5" y2="1409.5" stroke="#4a4a4a" stroke-width="2.8" stroke-linecap="butt"/>
<line x1="531.5" y1="1402" x2="553.5" y2="1402" stroke="#4a4a4a" stroke-width="3" stroke-linecap="round"/>
<line x1="531.5" y1="1409.5" x2="553.5" y2="1409.5" stroke="#4a4a4a" stroke-width="3" stroke-linecap="round"/>
<line x1="767.5" y1="1405.5" x2="767.5" y2="1413" stroke="#4a4a4a" stroke-width="2.8" stroke-linecap="butt"/>
<line x1="756.5" y1="1405.5" x2="778.5" y2="1405.5" stroke="#4a4a4a" stroke-width="3" stroke-linecap="round"/>
<line x1="756.5" y1="1413" x2="778.5" y2="1413" stroke="#4a4a4a" stroke-width="3" stroke-linecap="round"/>
<line x1="989" y1="1399" x2="989" y2="1415" stroke="#4a4a4a" stroke-width="2.8" stroke-linecap="butt"/>
<line x1="978" y1="1399" x2="1000" y2="1399" stroke="#4a4a4a" stroke-width="3" stroke-linecap="round"/>
<line x1="978" y1="1415" x2="1000" y2="1415" stroke="#4a4a4a" stroke-width="3" stroke-linecap="round"/>
<line x1="1214.5" y1="1405.5" x2="1214.5" y2="1412.5" stroke="#4a4a4a" stroke-width="2.8" stroke-linecap="butt"/>
<line x1="1203.5" y1="1405.5" x2="1225.5" y2="1405.5" stroke="#4a4a4a" stroke-width="3" stroke-linecap="round"/>
<line x1="1203.5" y1="1412.5" x2="1225.5" y2="1412.5" stroke="#4a4a4a" stroke-width="3" stroke-linecap="round"/>
<line x1="1440" y1="1398" x2="1440" y2="1406" stroke="#4a4a4a" stroke-width="2.8" stroke-linecap="butt"/>
<line x1="1429" y1="1398" x2="1451" y2="1398" stroke="#4a4a4a" stroke-width="3" stroke-linecap="round"/>
<line x1="1429" y1="1406" x2="1451" y2="1406" stroke="#4a4a4a" stroke-width="3" stroke-linecap="round"/>
<circle cx="227" cy="842" r="2" fill="#333"/>
<line x1="143.2" y1="721.5" x2="143.2" y2="1449" stroke="#505050" stroke-width="3.2" stroke-linecap="butt"/>
<line x1="124.5" y1="722.5" x2="143.2" y2="722.5" stroke="#505050" stroke-width="3" stroke-linecap="butt"/>
<line x1="124.5" y1="785" x2="143.2" y2="785" stroke="#505050" stroke-width="3" stroke-linecap="butt"/>
<line x1="124.5" y1="846" x2="143.2" y2="846" stroke="#505050" stroke-width="3" stroke-linecap="butt"/>
<line x1="124.5" y1="907.3" x2="143.2" y2="907.3" stroke="#505050" stroke-width="3" stroke-linecap="butt"/>
<line x1="124.5" y1="965.2" x2="143.2" y2="965.2" stroke="#505050" stroke-width="3" stroke-linecap="butt"/>
<line x1="124.5" y1="1026.8" x2="143.2" y2="1026.8" stroke="#505050" stroke-width="3" stroke-linecap="butt"/>
<line x1="124.5" y1="1089" x2="143.2" y2="1089" stroke="#505050" stroke-width="3" stroke-linecap="butt"/>
<line x1="124.5" y1="1146" x2="143.2" y2="1146" stroke="#505050" stroke-width="3" stroke-linecap="butt"/>
<line x1="124.5" y1="1207.5" x2="143.2" y2="1207.5" stroke="#505050" stroke-width="3" stroke-linecap="butt"/>
<line x1="124.5" y1="1270" x2="143.2" y2="1270" stroke="#505050" stroke-width="3" stroke-linecap="butt"/>
<line x1="124.5" y1="1326.5" x2="143.2" y2="1326.5" stroke="#505050" stroke-width="3" stroke-linecap="butt"/>
<line x1="124.5" y1="1388.1" x2="143.2" y2="1388.1" stroke="#505050" stroke-width="3" stroke-linecap="butt"/>
<line x1="124.5" y1="1448.2" x2="1488" y2="1448.2" stroke="#3c3c3c" stroke-width="4" stroke-linecap="butt"/>
<text x="86.03" y="755.65" font-size="56.5" textLength="32.54" lengthAdjust="spacingAndGlyphs" fill="#000">6</text>
<text x="86.76" y="875.65" font-size="56.5" textLength="31.08" lengthAdjust="spacingAndGlyphs" fill="#000">5</text>
<text x="87.21" y="987.00" font-size="56.5" textLength="28.92" lengthAdjust="spacingAndGlyphs" fill="#000">4</text>
<text x="86.87" y="1110.00" font-size="56.5" textLength="31.08" lengthAdjust="spacingAndGlyphs" fill="#000">3</text>
<text x="85.52" y="1236.00" font-size="56.5" textLength="32.96" lengthAdjust="spacingAndGlyphs" fill="#000">2</text>
<text x="88.53" y="1362.40" font-size="56.5" textLength="21.67" lengthAdjust="spacingAndGlyphs" fill="#000">1</text>
<text x="86.29" y="1475.15" font-size="56.5" textLength="31.41" lengthAdjust="spacingAndGlyphs" fill="#000">0</text>
<text transform="rotate(-90)" x="-1272.44" y="56.50" font-size="56.5" textLength="406.20" lengthAdjust="spacingAndGlyphs">Flow rate (L/min)</text>
<path d="M232,822.5 L232,679.5 Q232,676 235.5,676 L1350.5,676 Q1354,676 1354,679.5 L1354,837.5" fill="none" stroke="#1c1c1c" stroke-width="3.3"/>
<path d="M232,706.3 L1121.8,706.3 Q1124.8,706.3 1124.8,709.3 L1124.8,837" fill="none" stroke="#1c1c1c" stroke-width="3.3" stroke-linejoin="round"/>
<path d="M232,744.2 L904.5,744.2 Q907.5,744.2 907.5,747.2 L907.5,833.5 Q907.5,836 905.0,836 L899.5,836" fill="none" stroke="#1c1c1c" stroke-width="3.3" stroke-linejoin="round"/>
<path d="M232,771.2 L685.5,771.2 Q688.5,771.2 688.5,774.2 L688.5,823.5 Q688.5,826 686.0,826 L680.5,826" fill="none" stroke="#1c1c1c" stroke-width="3.3" stroke-linejoin="round"/>
<path d="M232,798.9 L454.3,798.9 Q457.3,798.9 457.3,801.9 L457.3,823.0 Q457.3,825.5 454.8,825.5 L449.3,825.5" fill="none" stroke="#1c1c1c" stroke-width="3.3" stroke-linejoin="round"/>
<path d="M431.25,812.06 L431.25,806.20 M431.25,812.06 L439.30,810.25 M431.25,812.06 L423.20,810.25 M431.25,812.06 L436.23,816.80 M431.25,812.06 L426.27,816.80 " stroke="#2a2a2a" stroke-width="3.4" stroke-linecap="round" fill="none"/>
<circle cx="431.25" cy="812.06" r="2.55" fill="#2a2a2a"/>
<path d="M663.25,787.56 L663.25,781.70 M663.25,787.56 L670.80,785.75 M663.25,787.56 L655.70,785.75 M663.25,787.56 L667.92,792.30 M663.25,787.56 L658.58,792.30 " stroke="#2a2a2a" stroke-width="3.4" stroke-linecap="round" fill="none"/>
<circle cx="663.25" cy="787.56" r="2.55" fill="#2a2a2a"/>
<path d="M878.50,763.56 L878.50,757.70 M878.50,763.56 L886.30,761.75 M878.50,763.56 L870.70,761.75 M878.50,763.56 L883.32,768.30 M878.50,763.56 L873.68,768.30 " stroke="#2a2a2a" stroke-width="3.4" stroke-linecap="round" fill="none"/>
<circle cx="878.50" cy="763.56" r="2.55" fill="#2a2a2a"/>
<path d="M1095.75,729.51 L1095.75,724.20 M1095.75,729.51 L1103.80,727.87 M1095.75,729.51 L1087.70,727.87 M1095.75,729.51 L1100.73,733.80 M1095.75,729.51 L1090.77,733.80 " stroke="#2a2a2a" stroke-width="3.4" stroke-linecap="round" fill="none"/>
<circle cx="1095.75" cy="729.51" r="2.55" fill="#2a2a2a"/>
<path d="M1318.25,706.28 L1318.25,700.70 M1318.25,706.28 L1325.80,704.56 M1318.25,706.28 L1310.70,704.56 M1318.25,706.28 L1322.92,710.80 M1318.25,706.28 L1313.58,710.80 " stroke="#2a2a2a" stroke-width="3.4" stroke-linecap="round" fill="none"/>
<circle cx="1318.25" cy="706.28" r="2.55" fill="#2a2a2a"/>
<line x1="217" y1="1500.5" x2="259" y2="1500.5" stroke="#7a7a7a" stroke-width="2.2" stroke-linecap="butt"/>
<line x1="295" y1="1500.5" x2="301" y2="1500.5" stroke="#9a9a9a" stroke-width="2.2" stroke-linecap="butt"/>
<text x="196.73" y="1518.40" font-size="57" font-weight="bold" textLength="31.12" lengthAdjust="spacingAndGlyphs" fill="#000">T</text>
<text x="223.19" y="1518.40" font-size="57" font-weight="bold" textLength="38.11" lengthAdjust="spacingAndGlyphs" fill="#000">A</text>
<text x="258.23" y="1518.40" font-size="57" font-weight="bold" textLength="36.55" lengthAdjust="spacingAndGlyphs" fill="#000">V</text>
<line x1="765" y1="1500" x2="777" y2="1500" stroke="#8a8a8a" stroke-width="2" stroke-linecap="butt"/>
<line x1="989" y1="1500" x2="1000" y2="1500" stroke="#8a8a8a" stroke-width="2" stroke-linecap="butt"/>
<line x1="1132" y1="1498.5" x2="1149" y2="1498.5" stroke="#8a8a8a" stroke-width="2" stroke-linecap="butt"/>
<text x="380.74" y="1525.60" font-size="57" font-weight="bold" textLength="188.88" lengthAdjust="spacingAndGlyphs" fill="#000">ABAV-1</text>
<text x="610.51" y="1525.40" font-size="57" font-weight="bold" textLength="193.37" lengthAdjust="spacingAndGlyphs" fill="#000">ABAV-2</text>
<text x="834.31" y="1525.40" font-size="57" font-weight="bold" textLength="193.17" lengthAdjust="spacingAndGlyphs" fill="#000">ABAV-3</text>
<text x="1063.25" y="1521.90" font-size="57" font-weight="bold" textLength="184.04" lengthAdjust="spacingAndGlyphs" fill="#000">SBAV-1</text>
<text x="1285.50" y="1518.30" font-size="57" font-weight="bold" textLength="190.58" lengthAdjust="spacingAndGlyphs" fill="#000">SBAV-2</text>
<rect x="114.50" y="1612.00" width="30.00" height="29.00" fill="#9dc3e8"/>
<rect x="442.00" y="1612.80" width="30.30" height="28.10" fill="#aee9fa"/>
<rect x="822.90" y="1612.00" width="31.30" height="29.40" fill="#5afc85"/>
<rect x="1212.00" y="1611.50" width="27.30" height="30.50" fill="#ff5064"/>
<text x="163.65" y="1645.00" font-size="56.5" textLength="241.92" lengthAdjust="spacingAndGlyphs" fill="#000">Mean flow</text>
<text x="485.01" y="1644.90" font-size="56.5" textLength="306.26" lengthAdjust="spacingAndGlyphs" fill="#000">Forward flow</text>
<text x="873.89" y="1645.00" font-size="56.5" textLength="319.80" lengthAdjust="spacingAndGlyphs" fill="#000">Regurgitation</text>
<text x="1251.43" y="1648.30" font-size="56.5" textLength="213.75" lengthAdjust="spacingAndGlyphs" fill="#000">Leakage</text>
</svg>
</body></html>
